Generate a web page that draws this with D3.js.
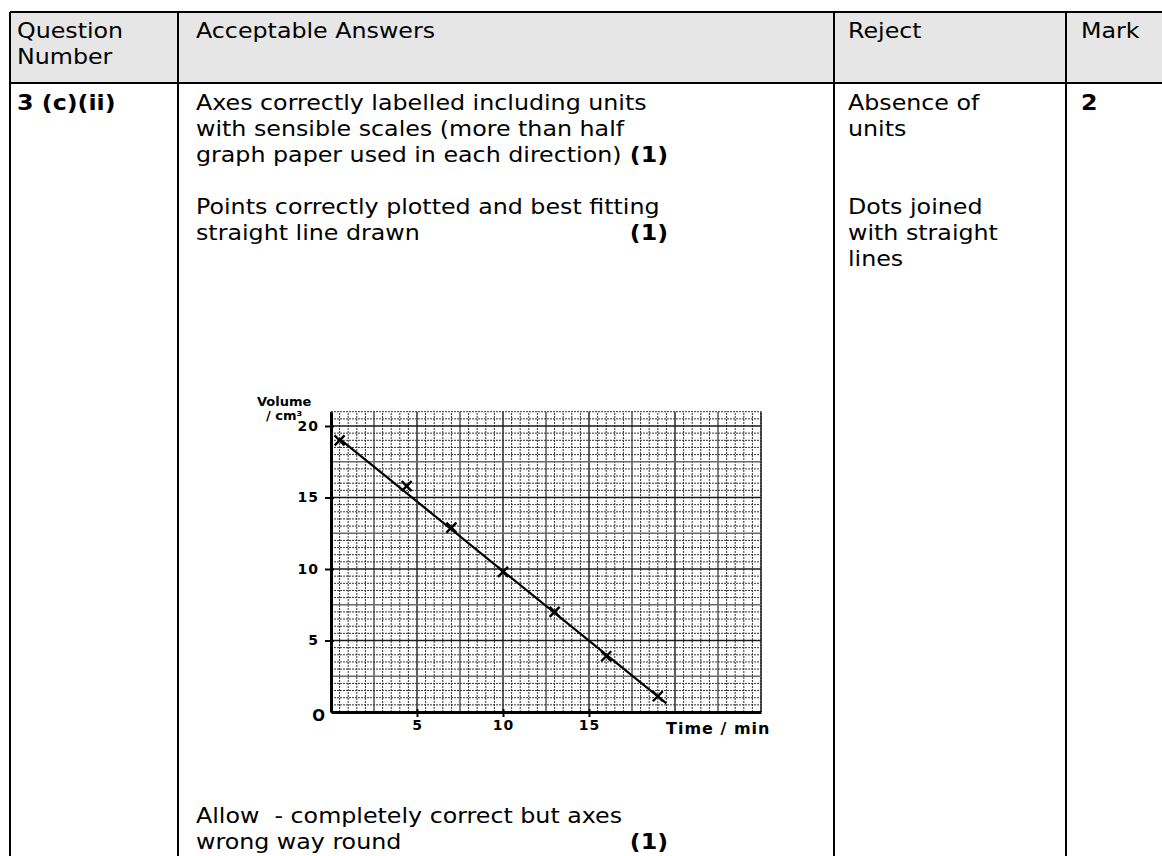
<!DOCTYPE html>
<html><head><meta charset="utf-8">
<script src="https://cdn.jsdelivr.net/npm/d3@7"></script>
<style>html,body{margin:0;padding:0;background:#fff;} svg{display:block;}</style>
</head><body><svg id="c" width="1162" height="856"></svg>
<script>
// ---- data ----
const headerLabels = [["Question","Number"],["Acceptable Answers"],["Reject"],["Mark"]];
const questionNumber = "3 (c)(ii)";
const answerLines = ["Axes correctly labelled including units","with sensible scales (more than half","graph paper used in each direction)","","Points correctly plotted and best fitting","straight line drawn"];
const answerMarks = ["","","(1)","","","(1)"];
const rejectLines = ["Absence of","units","","","Dots joined","with straight","lines"];
const markValue = "2";
const allowLines = ["Allow  - completely correct but axes","wrong way round"];
const allowMarks = ["","(1)"];
const time = [0.5, 4.4, 7, 10, 13, 16, 19];
const volume = [19, 15.8, 12.9, 9.8, 7, 3.9, 1.1];
const fitTime = [0.5, 19.5];
const fitVolume = [19.1, 0.6];
const xTicks = [5, 10, 15];
const yTicks = [5, 10, 15, 20];
const xLabel = "Time / min";
const yLabel = ["Volume", "/ cm³"];

// ---- layout ----
const svg = d3.select("#c");
const FONT = "'DejaVu Sans', Verdana, sans-serif";
const FS = 22, SX = 1.08;
const colX = [10, 178, 834, 1066, 1170];
const colPad = [7, 18, 14, 15];
const topY = 12, headY = 83, botY = 870;

function txt(g, s, x, y, opts = {}) {
  return g.append("text")
    .attr("transform", `translate(${x},${y}) scale(${SX},1)`)
    .attr("font-family", FONT).attr("font-size", opts.fs || FS)
    .attr("font-weight", opts.bold ? "bold" : "normal")
    .attr("text-anchor", opts.anchor || "start")
    .attr("fill", "#000").text(s);
}

// header background
svg.append("rect").attr("x", colX[0]).attr("y", topY).attr("width", colX[4] - colX[0]).attr("height", headY - topY).attr("fill", "#e6e6e6");

const tg = svg.append("g");
headerLabels.forEach((lines, i) => lines.forEach((s, j) => txt(tg, s, colX[i] + colPad[i], 38 + j * 26)));

const b0 = 110, lh = 26;
txt(tg, questionNumber, colX[0] + colPad[0], b0, {bold: true});
answerLines.forEach((s, i) => { if (s) txt(tg, s, colX[1] + colPad[1], b0 + i * lh); });
answerMarks.forEach((s, i) => { if (s) txt(tg, s, 668, b0 + i * lh, {bold: true, anchor: "end"}); });
rejectLines.forEach((s, i) => { if (s) txt(tg, s, colX[2] + colPad[2], b0 + i * lh); });
txt(tg, markValue, colX[3] + colPad[3], b0, {bold: true});
allowLines.forEach((s, i) => txt(tg, s, colX[1] + colPad[1], 823 + i * lh).style("white-space", "pre"));
allowMarks.forEach((s, i) => { if (s) txt(tg, s, 668, 823 + i * lh, {bold: true, anchor: "end"}); });

// borders
const bg = svg.append("g").attr("stroke", "#000").attr("stroke-width", 2);
bg.append("line").attr("x1", colX[0]).attr("x2", colX[4]).attr("y1", topY).attr("y2", topY);
bg.append("line").attr("x1", colX[0]).attr("x2", colX[4]).attr("y1", headY).attr("y2", headY);
colX.slice(0, 4).forEach(x => bg.append("line").attr("x1", x).attr("x2", x).attr("y1", topY).attr("y2", botY));

// ---- graph ----
const x = d3.scaleLinear().domain([0, 25]).range([331, 761]);
const y = d3.scaleLinear().domain([0, 21]).range([712, 712 - 21 * 14.3]);
const gg = svg.append("g");
const isMul = (v, m) => Math.abs(v / m - Math.round(v / m)) < 1e-6;
function gridStyle(sel, v) {
  if (isMul(v, 5)) sel.attr("stroke", "#1a1a1a").attr("stroke-width", 1.4);
  else if (isMul(v, 2.5)) sel.attr("stroke", "#6a6a6a").attr("stroke-width", 1.7);
  else sel.attr("stroke", "#333").attr("stroke-width", 1).attr("stroke-dasharray", "2,1");
}
d3.range(0, 25.001, 0.5).forEach(v => {
  const l = gg.append("line").attr("x1", x(v)).attr("x2", x(v)).attr("y1", y(0)).attr("y2", y(21));
  gridStyle(l, v);
});
d3.range(0, 21.001, 0.5).forEach(v => {
  const l = gg.append("line").attr("x1", x(0)).attr("x2", x(25)).attr("y1", y(v)).attr("y2", y(v));
  gridStyle(l, v);
});
gg.append("line").attr("x1", x(25)).attr("x2", x(25)).attr("y1", y(0)).attr("y2", y(21)).attr("stroke", "#333").attr("stroke-width", 1.6).attr("stroke-dasharray", "2,1");

const HF = "'DejaVu Sans', sans-serif";
const yAxis = gg.append("g").attr("transform", `translate(${x(0)},0)`)
  .call(d3.axisLeft(y).tickValues(yTicks).tickSizeInner(6).tickSizeOuter(0).tickPadding(6).tickFormat(d3.format("d")));
const xAxis = gg.append("g").attr("transform", `translate(0,${y(0)})`)
  .call(d3.axisBottom(x).tickValues(xTicks).tickSizeInner(5).tickSizeOuter(0).tickPadding(3).tickFormat(d3.format("d")));
[yAxis, xAxis].forEach(a => {
  a.attr("font-size", null);
  a.select(".domain").attr("stroke", "#000").attr("stroke-width", 3);
  a.selectAll(".tick line").attr("stroke", "#000").attr("stroke-width", 2);
  a.selectAll(".tick text").attr("font-family", HF).style("font-size", "14px").attr("font-weight", "bold")
    .attr("letter-spacing", 1).attr("fill", "#000");
});
xAxis.selectAll(".tick line").attr("y1", -3);
yAxis.selectAll(".tick line").attr("x1", 3);

gg.append("text").attr("x", x(0) - 6).attr("y", y(0) + 9).attr("text-anchor", "end")
  .attr("font-family", HF).attr("font-size", 15).attr("font-weight", "bold").text("O");
gg.append("text").attr("x", 666).attr("y", 734).attr("font-family", HF).attr("font-size", 16).attr("font-weight", "bold")
  .attr("letter-spacing", 1).text(xLabel);
yLabel.forEach((s, i) => gg.append("text").attr("x", 257 + i * 9).attr("y", 406 + i * 14)
  .attr("font-family", HF).attr("font-size", 13).attr("font-weight", "bold").text(s));

// best-fit line
gg.append("line").attr("x1", x(fitTime[0])).attr("y1", y(fitVolume[0])).attr("x2", x(fitTime[1])).attr("y2", y(fitVolume[1]))
  .attr("stroke", "#000").attr("stroke-width", 2.2);
// points
gg.selectAll(".pt").data(time.map((t, i) => [t, volume[i]])).enter().append("path").attr("class", "pt")
  .attr("transform", d => `translate(${x(d[0])},${y(d[1])})`)
  .attr("d", "M-5,-5L5,5M-5,5L5,-5").attr("stroke", "#000").attr("stroke-width", 2.4).attr("fill", "none");
</script></body></html>
